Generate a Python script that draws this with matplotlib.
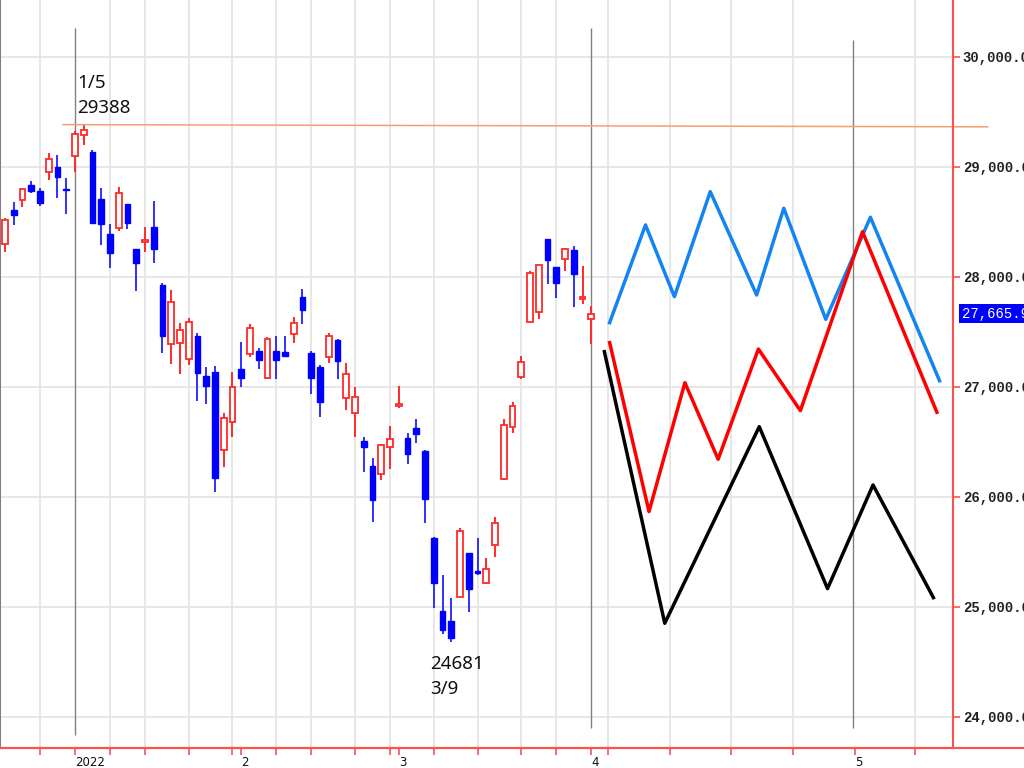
import numpy as np
import matplotlib
matplotlib.use("Agg")
import matplotlib.pyplot as plt

# daily candles, 2021-12-21 .. 2022-04-01 (trading-day index on x)
opens = [28300, 28610, 28700, 28836, 28780, 28953, 28997, 28800, 29098, 29288,
         29136, 28711, 28388, 28444, 28661, 28252, 28320, 28452, 27930, 27391,
         27403, 27252, 27464, 27100, 27134, 26427, 26685, 27167, 27300, 27330,
         27079, 27327, 27315, 27482, 27815, 27306, 27179, 27270, 27427, 26897,
         26767, 26509, 26282, 26209, 26452, 26830, 26533, 26624, 26421, 25630,
         24967, 24876, 25094, 25488, 25327, 25221, 25564, 26161, 26640, 27088,
         27594, 27685, 28343, 28088, 28161, 28245, 27800, 27620]
highs = [28534, 28680, 28812, 28873, 28806, 29125, 29110, 28903, 29323, 29388,
         29158, 28813, 28479, 28821, 28665, 28255, 28452, 28694, 27948, 27882,
         27585, 27624, 27490, 27180, 27191, 26760, 27139, 27412, 27573, 27352,
         27452, 27464, 27464, 27633, 27888, 27327, 27200, 27488, 27433, 27215,
         26997, 26548, 26352, 26480, 26645, 27009, 26579, 26706, 26425, 25635,
         25291, 25079, 25715, 25490, 25624, 25442, 25815, 26706, 26867, 27282,
         28058, 28112, 28345, 28090, 28260, 28282, 28100, 27736]
lows = [28227, 28470, 28640, 28766, 28648, 28882, 28720, 28570, 28954, 29204,
        28487, 28293, 28079, 28421, 28434, 27876, 28230, 28130, 27312, 27209,
        27118, 27200, 26876, 26845, 26044, 26275, 26543, 27003, 27275, 27161,
        27070, 27070, 27275, 27403, 27573, 26936, 26724, 27221, 27070, 26791,
        26543, 26230, 25775, 26155, 26252, 26806, 26300, 26488, 25761, 24988,
        24752, 24681, 25088, 24958, 25291, 25209, 25458, 26152, 26585, 27070,
        27594, 27615, 27936, 27806, 28058, 27730, 27755, 27391]
closes = [28518, 28562, 28798, 28782, 28676, 29069, 28907, 28792, 29301, 29332,
          28488, 28479, 28222, 28766, 28489, 28124, 28334, 28257, 27467, 27773,
          27522, 27588, 27131, 27011, 26170, 26717, 27002, 27078, 27534, 27241,
          27440, 27249, 27285, 27580, 27696, 27080, 26865, 27460, 27233, 27122,
          26911, 26450, 25971, 26477, 26527, 26845, 26393, 26577, 25985, 25221,
          24791, 24718, 25690, 25163, 25308, 25346, 25762, 26653, 26827, 27224,
          28040, 28110, 28150, 27944, 28252, 28027, 27821, 27665.98]

# projected paths after April 1
blue_x = [69.1, 73.2, 76.5, 80.6, 85.9, 89.0, 93.8, 98.9, 106.8]
blue_y = [27585, 28473, 27821, 28776, 27836, 28625, 27615, 28543, 27057]
red_x = [69.1, 73.6, 77.7, 81.5, 86.1, 90.9, 98.0, 106.5]
red_y = [27403, 25867, 27039, 26343, 27345, 26785, 28412, 26770]
black_x = [68.5, 75.4, 86.2, 94.0, 99.2, 106.1]
black_y = [27321, 24852, 26639, 25167, 26109, 25085]

week_ticks = [4, 12, 16, 21, 26, 31, 35, 40, 44, 49, 54, 59, 63, 68.9, 76.0, 83.0, 90.1, 104.0]
month_ticks = [8, 27, 45, 67, 97.1]
month_labels = ["2022", "2", "3", "4", "5"]
marker_days = [8, 67, 96.9]
price_ticks = [24000, 25000, 26000, 27000, 28000, 29000, 30000]

UP = "#ff2a2a"
DOWN = "#0000ff"
AXIS_RED = "#ff5050"

fig = plt.figure(figsize=(10.24, 7.68), dpi=100)
ax = fig.add_axes([0.0, 20 / 768, 953 / 1024, 748 / 768])

ax.set_xlim(-0.57, 108.34)
ax.set_ylim(23718, 30518)

# grid
for p in price_ticks:
    ax.axhline(p, color="#e3e3e3", lw=1.2, zorder=0)
for w in week_ticks:
    ax.axvline(w, color="#e3e3e3", lw=1.2, zorder=0)

# marker lines
ax.vlines(marker_days[0], 23836, 30264, color="#808080", lw=1, zorder=1)
ax.vlines(marker_days[1], 23900, 30264, color="#808080", lw=1, zorder=1)
ax.vlines(marker_days[2], 23900, 30155, color="#808080", lw=1, zorder=1)

# candles
x = np.arange(len(closes))
o = np.array(opens, dtype=float)
c = np.array(closes, dtype=float)
h = np.array(highs, dtype=float)
l = np.array(lows, dtype=float)
up = c >= o
ax.vlines(x[up], l[up], h[up], color=UP, lw=1.4, zorder=2)
ax.vlines(x[~up], l[~up], h[~up], color="#3030ff", lw=1.4, zorder=2)
bot = np.minimum(o, c)
hgt = np.maximum(np.abs(c - o), 8)
ax.bar(x[up], hgt[up], bottom=bot[up], width=0.66, facecolor="white",
       edgecolor=UP, linewidth=1.3, zorder=3)
ax.bar(x[~up], hgt[~up], bottom=bot[~up], width=0.66, facecolor=DOWN,
       edgecolor=DOWN, linewidth=1.0, zorder=3)

# high level line
ax.plot([6.63, 112.3], [29385, 29365], color="#f5a070", lw=1.1, clip_on=False, zorder=2)

# projections
ax.plot(blue_x, blue_y, color="#1684f0", lw=2.5, zorder=4)
ax.plot(red_x, red_y, color="#ff0000", lw=2.5, zorder=4)
ax.plot(black_x, black_y, color="#000000", lw=2.5, zorder=4)

# annotations
ax.text(8.25, 29845, "1/5\n29388", fontsize=13.5, family="Noto Sans", va="top",
        ha="left", linespacing=1.5, color="#111111")
ax.text(48.6, 24565, "24681\n3/9", fontsize=13.5, family="Noto Sans", va="top",
        ha="left", linespacing=1.5, color="#111111")

# axes styling
ax.spines["top"].set_visible(False)
ax.spines["left"].set_color("#808080")
ax.spines["right"].set_color(AXIS_RED)
ax.spines["bottom"].set_color(AXIS_RED)
ax.spines["right"].set_linewidth(1.5)
ax.spines["bottom"].set_linewidth(1.5)
ax.plot([0, 1.08], [0, 0], transform=ax.transAxes, color=AXIS_RED, lw=1.5, clip_on=False)

ax.yaxis.tick_right()
ax.set_yticks(price_ticks)
ax.set_yticklabels([f"{p:,.2f}" for p in price_ticks], family="Liberation Mono",
                   fontsize=10, fontweight="bold")
ax.tick_params(axis="y", colors=AXIS_RED, labelcolor="#222222", length=5, width=1.2, pad=2)

ax.set_xticks(month_ticks)
ax.set_xticklabels(month_labels, family="DejaVu Sans", fontsize=8.5, ha="left")
ax.set_xticks(week_ticks, minor=True)
ax.tick_params(axis="x", which="both", colors=AXIS_RED, labelcolor="#111111",
               length=5, width=1.2, pad=1)

# last price tag
ax.text(1.009, closes[-1], f"{closes[-1]:,.2f}", transform=ax.get_yaxis_transform(),
        family="Liberation Mono", fontsize=10, color="white", va="center", ha="left",
        bbox=dict(boxstyle="square,pad=0.2", fc="#0000ff", ec="none"), clip_on=False)

fig.savefig("out.png", dpi=100)
